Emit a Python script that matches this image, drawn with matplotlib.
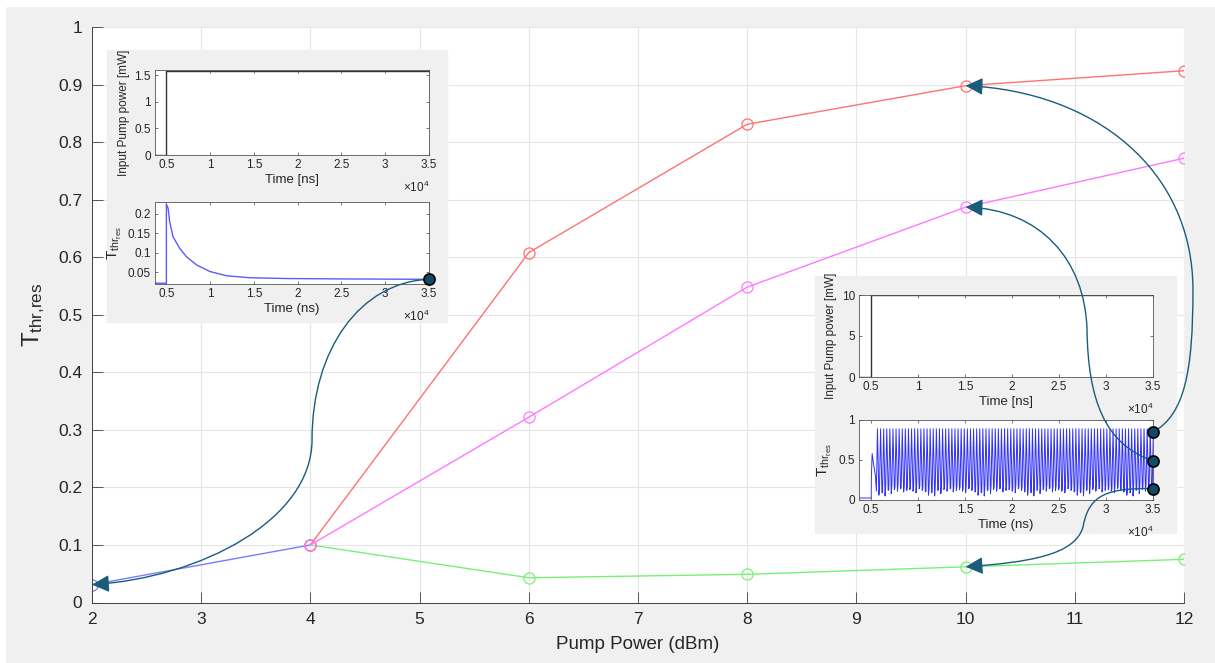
import matplotlib.pyplot as plt
from matplotlib.path import Path
from matplotlib.patches import FancyArrowPatch, Rectangle
from matplotlib.lines import Line2D
from matplotlib.ticker import FuncFormatter

plt.rcParams['font.family'] = ['Liberation Sans', 'DejaVu Sans']
plt.rcParams['mathtext.fontset'] = 'custom'
plt.rcParams['mathtext.rm'] = 'Liberation Sans'
plt.rcParams['mathtext.it'] = 'Liberation Sans'
plt.rcParams['mathtext.bf'] = 'Liberation Sans:bold'

## Threshold transmission vs pump power
blue_x = [2, 4]
blue_y = [0.031, 0.100]
branch_x = [4, 6, 8, 10, 12]
red_y = [0.100, 0.608, 0.831, 0.898, 0.924]
magenta_y = [0.100, 0.322, 0.548, 0.687, 0.772]
green_y = [0.100, 0.043, 0.049, 0.062, 0.075]

## Time traces (ns) for the 2 dBm case
t_pump_lo = [3700, 5000, 5000, 35000]
p_pump_lo = [0, 0, 1.585, 1.585]
t_res_lo = [3700, 5000, 5000, 5030, 5190, 5380, 5760, 6530, 7290, 8440,
            9970, 11880, 14550, 18760, 25000, 35000]
v_res_lo = [0.022, 0.022, 0.224, 0.222, 0.215, 0.179, 0.141, 0.111, 0.090,
            0.069, 0.052, 0.041, 0.036, 0.034, 0.033, 0.032]

## Time traces (ns) for the 10 dBm case
t_pump_hi = [3700, 5000, 5000, 35000]
p_pump_hi = [0, 0, 10, 10]
t_res_hi = [3700, 5000, 5020, 5100, 5250, 5450]
v_res_hi = [0.025, 0.025, 0.30, 0.58, 0.45, 0.30]
osc_start = 5550
osc_end = 35000
osc_period = 330
osc_peak = 0.89
osc_lows = [0.06, 0.09, 0.05, 0.12, 0.08, 0.13, 0.11, 0.14, 0.10, 0.12,
            0.13, 0.11, 0.09, 0.14, 0.12, 0.10]

# end points of the curved links on the insets
link_lo = (35000, 0.032)
links_hi = [(35000, 0.85), (35000, 0.49), (35000, 0.14)]

W, H = 1215, 663


def px_rect(x0, y0, x1, y1):
    return [x0 / W, 1 - y1 / H, (x1 - x0) / W, (y1 - y0) / H]


fig = plt.figure(figsize=(W / 100, H / 100), dpi=100, facecolor='#f0f0f0')

## Main axes
ax = fig.add_axes(px_rect(92, 27, 1184, 602.5))
ax.plot(blue_x, blue_y, '-o', color='#7b7bff', lw=1.0, ms=8, mfc='none', mew=0.9)
ax.plot(branch_x, green_y, '-o', color='#78f078', lw=1.0, ms=8, mfc='none', mew=0.9)
ax.plot(branch_x, red_y, '-o', color='#ff7272', lw=1.0, ms=8, mfc='none', mew=0.9)
ax.plot(branch_x, magenta_y, '-o', color='#ff78ff', lw=1.0, ms=8, mfc='none', mew=0.9)
ax.set_xlim(2, 12)
ax.set_ylim(0, 1)
ax.set_xticks(range(2, 13))
ax.set_yticks([i / 10 for i in range(11)])
ax.xaxis.set_major_formatter(FuncFormatter(lambda v, p: '%g' % v))
ax.yaxis.set_major_formatter(FuncFormatter(lambda v, p: '%g' % v))
ax.grid(True, color='#e6e6e6', lw=0.8)
ax.set_axisbelow(True)
for s in ['top', 'right']:
    ax.spines[s].set_visible(False)
for s in ['left', 'bottom']:
    ax.spines[s].set_color('#404040')
    ax.spines[s].set_linewidth(0.7)
ax.tick_params(direction='in', length=8, width=0.6, colors='#404040',
               labelcolor='#262626', labelsize=12.5, pad=7)
ax.set_xlabel('Pump Power (dBm)', fontsize=13.5, color='#262626', labelpad=6)
ax.set_ylabel(r'$T_{thr{,}res}$', fontsize=17.5, color='#262626', labelpad=8)


def style_inset(a, ylim, yticks, xlabel, ylabel, ylabel_size):
    a.set_xlim(0.37, 3.5)
    a.set_ylim(*ylim)
    a.set_xticks([0.5, 1, 1.5, 2, 2.5, 3, 3.5])
    a.set_yticks(yticks)
    a.xaxis.set_major_formatter(FuncFormatter(lambda v, p: '%g' % v))
    a.yaxis.set_major_formatter(FuncFormatter(lambda v, p: '%g' % v))
    a.tick_params(direction='in', length=2.5, width=0.5, labelsize=8.5,
                  colors='#404040', labelcolor='#262626', top=True, right=True, pad=3)
    for s in a.spines.values():
        s.set_color('#555555')
        s.set_linewidth(0.6)
    a.set_xlabel(xlabel, fontsize=9.5, color='#262626', labelpad=2)
    a.set_ylabel(ylabel, fontsize=ylabel_size, color='#262626', labelpad=3)
    a.annotate(r'$\times10^{4}$', xy=(1, 0), xycoords='axes fraction',
               xytext=(0, -18), textcoords='offset points', ha='right', va='top',
               fontsize=8.5, color='#262626')


## Inset for 2 dBm
fig.add_artist(Rectangle((107 / W, 1 - 322 / H), 340 / W, 272 / H,
                         transform=fig.transFigure, color='#f0f0f0', zorder=1))
ins1a = fig.add_axes(px_rect(155, 70, 429, 155), zorder=2)
ins1a.plot([t / 1e4 for t in t_pump_lo], p_pump_lo, color='#333333', lw=1.0)
style_inset(ins1a, (0, 1.6), [0, 0.5, 1, 1.5], 'Time [ns]', 'Input Pump power [mW]', 8.5)

ins1b = fig.add_axes(px_rect(155, 202, 429, 284), zorder=2)
ins1b.plot([t / 1e4 for t in t_res_lo], v_res_lo, color='#5a5aff', lw=1.0)
style_inset(ins1b, (0.02, 0.23), [0.05, 0.1, 0.15, 0.2], 'Time (ns)',
            r'$T_{thr_{res}}$', 11)

## Inset for 10 dBm
fig.add_artist(Rectangle((815 / W, 1 - 533 / H), 361 / W, 257 / H,
                         transform=fig.transFigure, color='#f0f0f0', zorder=1))
ins2a = fig.add_axes(px_rect(859, 295, 1153, 377), zorder=2)
ins2a.plot([t / 1e4 for t in t_pump_hi], p_pump_hi, color='#333333', lw=1.0)
style_inset(ins2a, (0, 10), [0, 5, 10], 'Time [ns]', 'Input Pump power [mW]', 8.5)

# self-pulsing trace
tt = list(t_res_hi)
vv = list(v_res_hi)
t0 = osc_start
k = 0
while t0 < osc_end:
    low = osc_lows[k % len(osc_lows)]
    tt += [t0, t0 + 0.35 * osc_period, t0 + 0.8 * osc_period]
    vv += [low + 0.05, osc_peak, low]
    t0 += osc_period
    k += 1
tt.append(osc_end)
vv.append(0.14)

ins2b = fig.add_axes(px_rect(859, 420, 1153, 500), zorder=2)
ins2b.plot([t / 1e4 for t in tt], vv, color='#3030ff', lw=0.7)
style_inset(ins2b, (0, 1), [0, 0.5, 1], 'Time (ns)', r'$T_{thr_{res}}$', 11)

## Curved links from the insets to the main curve
link_col = '#1a5d7b'


def link(src_ax, src, ctrl, dst):
    disp = src_ax.transData.transform((src[0] / 1e4, src[1]))
    sx, sy = ax.transData.inverted().transform(disp)
    verts = [(sx, sy)] + ctrl + [dst]
    codes = [Path.MOVETO] + [Path.CURVE4] * 6
    arr = FancyArrowPatch(path=Path(verts, codes), transform=ax.transData,
                          arrowstyle='-|>,head_length=0.7,head_width=0.35',
                          mutation_scale=15, color=link_col, lw=1.0, zorder=5)
    fig.add_artist(arr)
    fig.add_artist(Line2D([src[0] / 1e4], [src[1]], transform=src_ax.transData,
                          marker='o', ms=8, mfc='#0f4a66', mec='black', mew=1.2,
                          zorder=6))


link(ins1b, link_lo,
     [(4.454, 0.557), (4.015, 0.439), (4.015, 0.283),
      (4.015, 0.143), (2.989, 0.043)],
     (blue_x[0], blue_y[0]))
link(ins2b, links_hi[0],
     [(12.009, 0.326), (12.082, 0.404), (12.082, 0.543),
      (12.082, 0.752), (11.185, 0.888)],
     (branch_x[3], red_y[3]))
link(ins2b, links_hi[1],
     [(11.277, 0.274), (11.121, 0.352), (11.112, 0.474),
      (11.093, 0.596), (10.681, 0.683)],
     (branch_x[3], magenta_y[3]))
link(ins2b, links_hi[2],
     [(11.231, 0.201), (11.121, 0.178), (11.075, 0.131),
      (11.002, 0.083), (10.59, 0.070)],
     (branch_x[3], green_y[3]))

# thin white frame at the top and left edges
fig.add_artist(Rectangle((0, 1 - 6 / H), 1, 6 / H, transform=fig.transFigure,
                         color='white', zorder=10))
fig.add_artist(Rectangle((0, 0), 5 / W, 1, transform=fig.transFigure,
                         color='white', zorder=10))

plt.savefig('out.png', dpi=100, facecolor=fig.get_facecolor())
